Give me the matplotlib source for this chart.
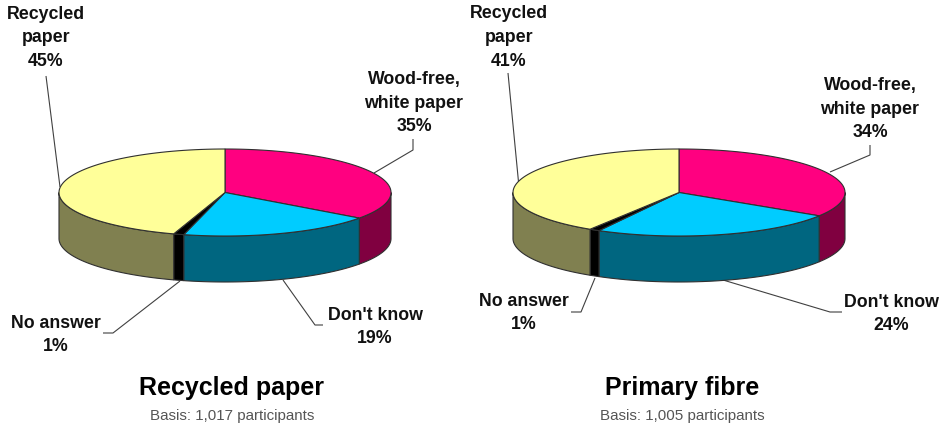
import numpy as np
import matplotlib
matplotlib.use("Agg")
import matplotlib.pyplot as plt

plt.rcParams['font.family'] = ['Liberation Sans', 'DejaVu Sans']

# share of answers, clockwise from 12 o'clock
segments = ["Wood-free, white paper", "Don't know", "No answer", "Recycled paper"]
recycled_values = [35, 19, 1, 45]
primary_values = [34, 24, 1, 41]
top_colors = ['#ff0080', '#00ccff', '#000000', '#ffff99']
side_colors = ['#800040', '#006680', '#000000', '#808050']

RX, RY, DEPTH = 166, 43.5, 46
EDGE = '#303030'


def rim(cx, cy, a0, a1, n=80):
    t = np.radians(np.linspace(a0, a1, n))
    return cx + RX * np.sin(t), cy - RY * np.cos(t)


def pie3d(ax, cx, cy, values):
    total = sum(values)
    bounds = np.cumsum([0] + values) * 360.0 / total
    # side walls, only the part facing front
    for i in range(len(values)):
        a0 = max(bounds[i], 90)
        a1 = min(bounds[i + 1], 270)
        if a1 <= a0:
            continue
        x, y = rim(cx, cy, a0, a1)
        ax.fill(np.r_[x, x[::-1]], np.r_[y, y[::-1] + DEPTH], fc=side_colors[i], ec=EDGE, lw=0.8, zorder=2)
    # top face
    for i in range(len(values)):
        x, y = rim(cx, cy, bounds[i], bounds[i + 1])
        ax.fill(np.r_[cx, x], np.r_[cy, y], fc=top_colors[i], ec=EDGE, lw=0.8, zorder=3)


def leader(ax, xs, ys):
    ax.plot(xs, ys, color='#404040', lw=0.8, zorder=1, solid_capstyle='butt')


def label(ax, x, y, txt):
    ax.text(x, y + 2, txt, ha='center', va='center', fontsize=12.8, fontweight='bold',
            color='#111111', linespacing=1.5)


fig = plt.figure(figsize=(9.41, 4.24), dpi=100)
ax = fig.add_axes([0, 0, 1, 1])
ax.set_xlim(0, 941)
ax.set_ylim(424, 0)
ax.axis('off')

pie3d(ax, 225, 192.5, recycled_values)
pie3d(ax, 679, 192.5, primary_values)

# left pie
leader(ax, [46, 60], [76, 187])
leader(ax, [413, 413, 374], [139, 150, 173])
leader(ax, [180, 113, 103], [281, 333, 333])
leader(ax, [283, 315, 323], [280, 325, 325])
label(ax, 46, 36, "Recycled\npaper\n%d%%" % recycled_values[3])
label(ax, 414, 101, "Wood-free,\nwhite paper\n%d%%" % recycled_values[0])
label(ax, 56, 333, "No answer\n%d%%" % recycled_values[2])
label(ax, 375, 325, "Don't know\n%d%%" % recycled_values[1])

# right pie
leader(ax, [508, 519], [73, 187])
leader(ax, [870, 870, 830], [145, 155, 172])
leader(ax, [595, 581, 571], [278, 312, 312])
leader(ax, [723, 830, 842], [280, 312, 312])
label(ax, 509, 35.5, "Recycled\npaper\n%d%%" % primary_values[3])
label(ax, 870, 107, "Wood-free,\nwhite paper\n%d%%" % primary_values[0])
label(ax, 524, 311, "No answer\n%d%%" % primary_values[2])
label(ax, 891, 312, "Don't know\n%d%%" % primary_values[1])

ax.text(232, 388, "Recycled paper", ha='center', va='center', fontsize=18, fontweight='bold', color='black')
ax.text(232, 416, "Basis: 1,017 participants", ha='center', va='center', fontsize=10.9, color='#555555')
ax.text(682, 388, "Primary fibre", ha='center', va='center', fontsize=18, fontweight='bold', color='black')
ax.text(682, 416, "Basis: 1,005 participants", ha='center', va='center', fontsize=10.9, color='#555555')

fig.savefig("out.png", dpi=100)
plt.close()
